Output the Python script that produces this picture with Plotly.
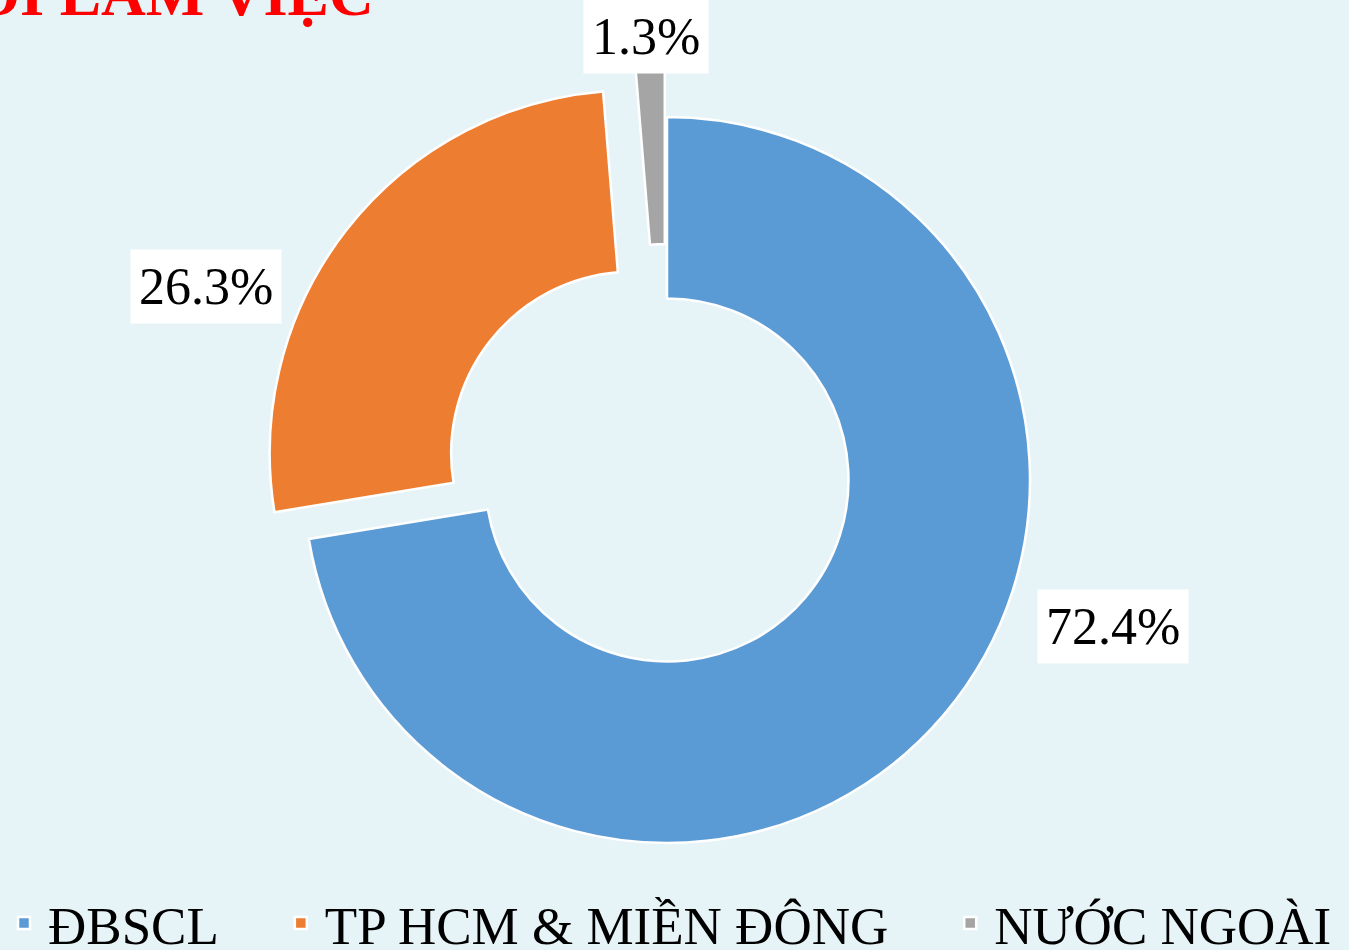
import plotly.graph_objects as go

regions = ["ĐBSCL", "TP HCM & MIỀN ĐÔNG", "NƯỚC NGOÀI"]
shares = [72.4, 26.3, 1.3]
colors = ["#5B9BD5", "#ED7D31", "#A5A5A5"]
pulls = [0, 0.12, 0.15]

# where the Excel-style label boxes sit (pixels from top-left)
label_px = [(1113, 626), (206, 286), (646, 37)]

W, H = 1349, 950
cx, cy, r = 667, 480, 363
half = r * (1 + max(pulls))

# a little trailing room between legend entries, like the original
legend_names = [n + "\u00a0" * 4 if i < len(regions) - 1 else n for i, n in enumerate(regions)]

fig = go.Figure()
fig.add_trace(go.Pie(
    labels=legend_names,
    values=shares,
    hole=0.5,
    sort=False,
    direction="clockwise",
    rotation=0,
    pull=pulls,
    textinfo="none",
    marker=dict(colors=colors, line=dict(color="white", width=2.5)),
    domain=dict(x=[(cx - half) / W, (cx + half) / W],
                y=[1 - (cy + half) / H, 1 - (cy - half) / H]),
    hoverinfo="label+percent",
))

for v, (px, py) in zip(shares, label_px):
    fig.add_annotation(
        x=px / W, y=1 - py / H, xref="paper", yref="paper",
        xanchor="center", yanchor="middle",
        text=f"{v:.1f}%", showarrow=False,
        font=dict(family="Liberation Serif", size=52, color="black"),
        bgcolor="white", borderpad=8,
    )

fig.add_annotation(
    x=376 / W, y=1 - 30 / H, xref="paper", yref="paper",
    xanchor="right", yanchor="bottom",
    text="<b>NƠI LÀM VIỆC</b>", showarrow=False,
    font=dict(family="Liberation Serif", size=62, color="red"),
)

fig.update_layout(
    width=W, height=H,
    margin=dict(l=0, r=0, t=0, b=0, autoexpand=False),
    paper_bgcolor="#E6F4F8",
    plot_bgcolor="#E6F4F8",
    font=dict(family="Liberation Serif", color="black"),
    showlegend=True,
    legend=dict(orientation="h", x=0, y=-14 / H, xanchor="left", yanchor="bottom",
                font=dict(size=53), bgcolor="rgba(0,0,0,0)", itemwidth=38),
)

fig.write_html("out.html", config={"displayModeBar": False},
               post_script="document.body.style.margin='0';")
